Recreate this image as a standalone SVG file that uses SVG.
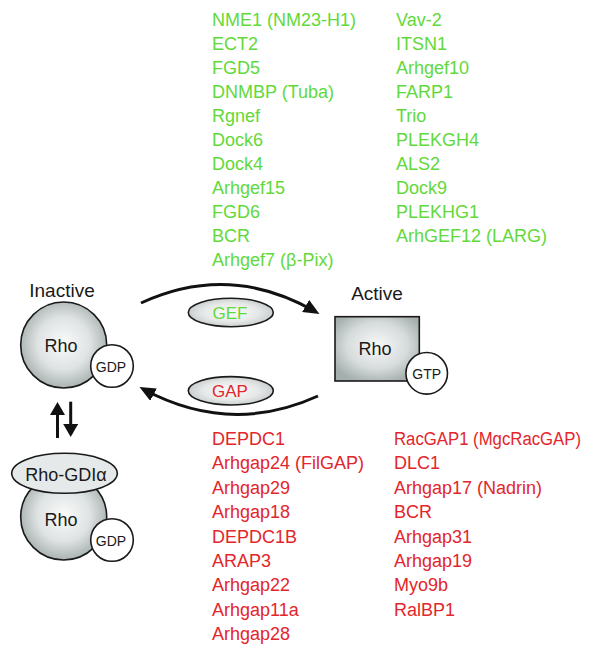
<svg xmlns="http://www.w3.org/2000/svg" width="602" height="658" viewBox="0 0 602 658">
<defs>
<radialGradient id="ball" cx="0.5" cy="0.48" r="0.55">
<stop offset="0" stop-color="#fafbfb"/>
<stop offset="0.55" stop-color="#dfe3e3"/>
<stop offset="1" stop-color="#a3adac"/>
</radialGradient>
<radialGradient id="box" cx="0.5" cy="0.45" r="0.6">
<stop offset="0" stop-color="#f8f9f9"/>
<stop offset="0.6" stop-color="#d6dbdb"/>
<stop offset="1" stop-color="#a5afae"/>
</radialGradient>
<radialGradient id="pill" cx="0.5" cy="0.5" r="0.55">
<stop offset="0" stop-color="#fbfbfb"/>
<stop offset="0.6" stop-color="#e6e8e8"/>
<stop offset="1" stop-color="#c2c7c7"/>
</radialGradient>
<marker id="ah" markerUnits="userSpaceOnUse" markerWidth="18" markerHeight="14" refX="12" refY="7" orient="auto">
<path d="M0,0 L16,7 L0,14 z" fill="#111"/>
</marker>
<marker id="ah2" markerUnits="userSpaceOnUse" markerWidth="16" markerHeight="16" refX="10" refY="7.5" orient="auto">
<path d="M0,0 L13,7.5 L0,15 z" fill="#111"/>
</marker>
</defs>
<style>
text{font-family:"Liberation Sans",Arial,sans-serif}
.lbl{font-size:18px;fill:#1a1a1a}
.gef{font-size:18px;fill:#62d93a}
.gap{font-size:18px;fill:#e3262b}
.sm{font-size:14px;fill:#1a1a1a;text-anchor:middle}
.mid{text-anchor:middle}
.edge{stroke:#1a1a1a;stroke-width:1.6}
.conn{fill:none;stroke:#111;stroke-width:3}
</style>

<g id="gef-list" class="gef">
<text x="212" y="26">NME1 (NM23-H1)</text>
<text x="212" y="50">ECT2</text>
<text x="212" y="74">FGD5</text>
<text x="212" y="98">DNMBP (Tuba)</text>
<text x="212" y="122">Rgnef</text>
<text x="212" y="146">Dock6</text>
<text x="212" y="170">Dock4</text>
<text x="212" y="194">Arhgef15</text>
<text x="212" y="218">FGD6</text>
<text x="212" y="242">BCR</text>
<text x="212" y="266">Arhgef7 (β-Pix)</text>
<text x="396" y="26">Vav-2</text>
<text x="396" y="50">ITSN1</text>
<text x="396" y="74">Arhgef10</text>
<text x="396" y="98">FARP1</text>
<text x="396" y="122">Trio</text>
<text x="396" y="146">PLEKGH4</text>
<text x="396" y="170">ALS2</text>
<text x="396" y="194">Dock9</text>
<text x="396" y="218">PLEKHG1</text>
<text x="396" y="242">ArhGEF12 (LARG)</text>
</g>

<g id="gap-list" class="gap">
<text x="212" y="445">DEPDC1</text>
<text x="212" y="469.4">Arhgap24 (FilGAP)</text>
<text x="212" y="493.8">Arhgap29</text>
<text x="212" y="518.2">Arhgap18</text>
<text x="212" y="542.6">DEPDC1B</text>
<text x="212" y="567">ARAP3</text>
<text x="212" y="591.4">Arhgap22</text>
<text x="212" y="615.8">Arhgap11a</text>
<text x="212" y="640.2">Arhgap28</text>
<text x="394" y="445" textLength="187" lengthAdjust="spacingAndGlyphs">RacGAP1 (MgcRacGAP)</text>
<text x="394" y="469.4">DLC1</text>
<text x="394" y="493.8">Arhgap17 (Nadrin)</text>
<text x="394" y="518.2">BCR</text>
<text x="394" y="542.6">Arhgap31</text>
<text x="394" y="567">Arhgap19</text>
<text x="394" y="591.4">Myo9b</text>
<text x="394" y="615.8">RalBP1</text>
</g>

<g id="connectors">
<path class="conn" d="M141,303 Q230,262 316,312" marker-end="url(#ah)"/>
<path class="conn" d="M318,396 Q230,436 143,389" marker-end="url(#ah)"/>
<line class="conn" x1="57.5" y1="438" x2="57.5" y2="405" marker-end="url(#ah2)"/>
<line class="conn" x1="70.7" y1="401.7" x2="70.7" y2="434" marker-end="url(#ah2)"/>
</g>

<g id="inactive">
<text class="lbl mid" x="62" y="297" style="font-size:19px">Inactive</text>
<circle class="edge" cx="63.7" cy="345" r="43" fill="url(#ball)"/>
<text class="lbl mid" x="61" y="352">Rho</text>
<circle class="edge" cx="112" cy="366" r="21.3" fill="#fff"/>
<text class="sm" x="111" y="371.5">GDP</text>
</g>

<g id="gef-node">
<ellipse class="edge" cx="230.8" cy="312.5" rx="42.5" ry="14.2" fill="url(#pill)"/>
<text class="mid" x="230" y="318.5" style="font-size:17px;fill:#62d93a">GEF</text>
</g>

<g id="gap-node">
<ellipse class="edge" cx="230.8" cy="390.8" rx="42.5" ry="14.2" fill="url(#pill)"/>
<text class="mid" x="230" y="397" style="font-size:17px;fill:#e3262b">GAP</text>
</g>

<g id="active">
<text class="lbl mid" x="377" y="299.5" style="font-size:19px">Active</text>
<rect class="edge" x="335" y="316.7" width="84.3" height="64.3" fill="url(#box)"/>
<text class="lbl mid" x="375" y="355">Rho</text>
<circle class="edge" cx="426.7" cy="373.3" r="20.8" fill="#fff"/>
<text class="sm" x="426.7" y="379">GTP</text>
</g>

<g id="gdi-complex">
<circle class="edge" cx="63.7" cy="517" r="43" fill="url(#ball)"/>
<ellipse class="edge" cx="64.5" cy="473.3" rx="52.8" ry="20" fill="#e6e9e9"/>
<text class="lbl mid" x="66" y="480.5">Rho-GDIα</text>
<text class="lbl mid" x="61" y="526">Rho</text>
<circle class="edge" cx="112" cy="540" r="21.3" fill="#fff"/>
<text class="sm" x="111" y="545.5">GDP</text>
</g>
</svg>
